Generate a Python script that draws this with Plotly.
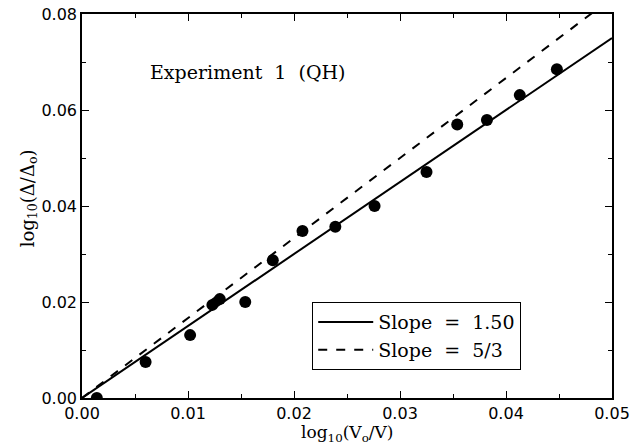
import plotly.graph_objects as go

# Data
x_data = [0.0014, 0.0060, 0.0102, 0.0123, 0.0130, 0.0154, 0.0180, 0.0208,
          0.0239, 0.0276, 0.0325, 0.0354, 0.0382, 0.0413, 0.0448]
y_data = [0.0000, 0.0075, 0.0131, 0.0194, 0.0206, 0.0200, 0.0287, 0.0348,
          0.0357, 0.0400, 0.0471, 0.0570, 0.0579, 0.0631, 0.0685]

fit_x = [0.0, 0.05]
slope_solid = 1.50
slope_dashed = 5 / 3
solid_y = [slope_solid * v for v in fit_x]
dashed_y = [slope_dashed * v for v in fit_x]

x_ticks = [0.00, 0.01, 0.02, 0.03, 0.04, 0.05]
y_ticks = [0.00, 0.02, 0.04, 0.06, 0.08]

serif = "DejaVu Serif, Liberation Serif, serif"
sans = "DejaVu Sans, Liberation Sans, sans-serif"

fig = go.Figure()
fig.add_trace(go.Scatter(x=fit_x, y=solid_y, mode="lines",
                         line=dict(color="black", width=2),
                         name="Slope  =  1.50"))
fig.add_trace(go.Scatter(x=fit_x, y=dashed_y, mode="lines",
                         line=dict(color="black", width=2, dash="dash"),
                         name="Slope  =  5/3"))
fig.add_trace(go.Scatter(x=x_data, y=y_data, mode="markers",
                         marker=dict(color="black", size=12),
                         showlegend=False, cliponaxis=True))

axis_common = dict(showline=True, linecolor="black", linewidth=1.5, mirror="ticks",
                   ticks="inside", ticklen=7, tickwidth=1, tickcolor="black",
                   showgrid=False, zeroline=False, automargin=False,
                   tickfont=dict(family=sans, size=16, color="black"),
                   minor=dict(ticks="inside", ticklen=4, tickcolor="black", tickwidth=1))

fig.update_xaxes(range=[0, 0.05], tickvals=x_ticks,
                 ticktext=[f"{v:.2f}" for v in x_ticks],
                 minor_dtick=0.005, ticklabelstandoff=0,
                 **axis_common)
fig.update_yaxes(range=[0, 0.08], tickvals=y_ticks,
                 ticktext=[f"{v:.2f}" for v in y_ticks],
                 minor_dtick=0.01,
                 **axis_common)

fig.add_annotation(x=0.5, y=-0.093, xref="paper", yref="paper",
                   xanchor="center", yanchor="middle",
                   text="log<sub>10</sub>(V<sub>o</sub>/V)", showarrow=False,
                   font=dict(family=serif, size=17, color="black"))
fig.add_annotation(x=-0.1, y=0.52, xref="paper", yref="paper",
                   xanchor="center", yanchor="middle", textangle=-90,
                   text="log<sub>10</sub>(Δ/Δ<sub>o</sub>)", showarrow=False,
                   font=dict(family=serif, size=18, color="black"))

fig.add_annotation(x=0.0062, y=0.0679, xref="x", yref="y", xanchor="left",
                   text="Experiment  1  (QH)", showarrow=False,
                   font=dict(family=serif, size=19, color="black"))

fig.update_layout(
    width=633, height=446,
    margin=dict(l=82, r=21, t=14, b=48),
    plot_bgcolor="white", paper_bgcolor="white",
    legend=dict(x=0.434, y=0.25, xanchor="left", yanchor="top",
                bordercolor="black", borderwidth=1.2, bgcolor="white",
                font=dict(family=serif, size=19, color="black"),
                tracegroupgap=0, itemwidth=55),
)

fig.write_html("out.html", config={"displayModeBar": False},
               post_script="document.body.style.margin='0';document.body.style.padding='0';")
